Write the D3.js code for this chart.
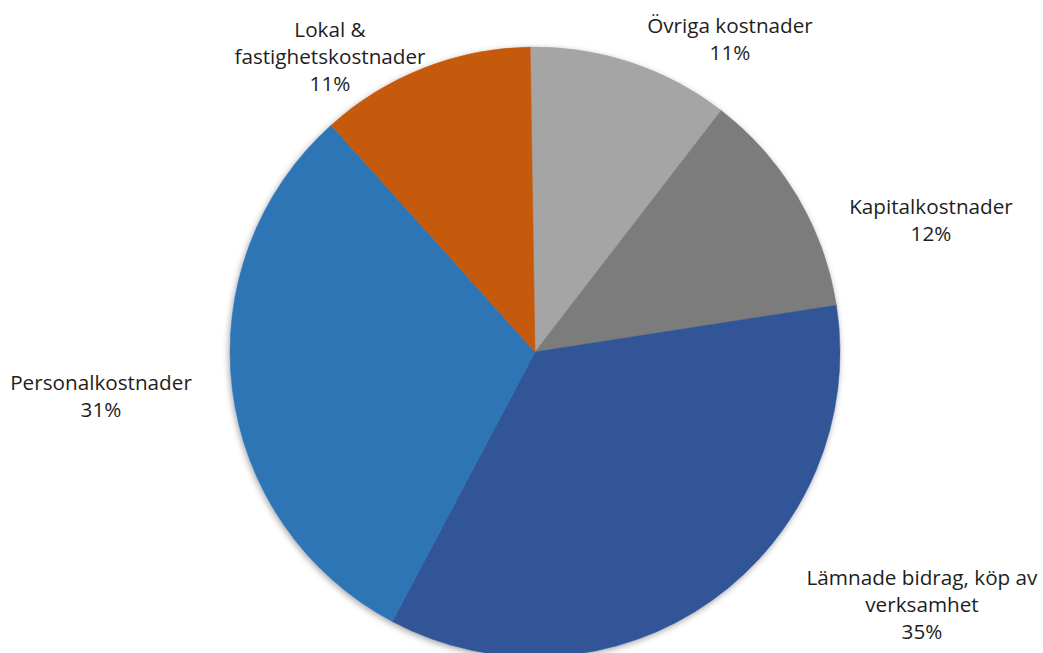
<!DOCTYPE html>
<html>
<head>
<meta charset="utf-8">
<script src="https://cdn.jsdelivr.net/npm/d3@7"></script>
<style>
  html, body { margin: 0; padding: 0; background: #fff; }
  svg { display: block; }
</style>
</head>
<body>
<svg width="1043" height="653"></svg>
<script>
// kostnader per slag, andel i procent
const categories = ["Övriga kostnader", "Kapitalkostnader", "Lämnade bidrag, köp av verksamhet", "Personalkostnader", "Lokal & fastighetskostnader"];
const values = [10.7, 12.1, 35.2, 30.6, 11.4];
const labelLines = [["Övriga kostnader"], ["Kapitalkostnader"], ["Lämnade bidrag, köp av", "verksamhet"], ["Personalkostnader"], ["Lokal &", "fastighetskostnader"]];
const colors = ["#a5a5a5", "#7c7c7c", "#305597", "#2e75b6", "#c55a11"];

// label centres (layout only)
const labelPos = [[730, 33], [931, 214], [922, 585], [101, 390], [330, 37]];

var svg = d3.select("svg");
var width = 1043, height = 653;
var cx = 535, cy = 352, radius = 305;
var lineH = 27;

var defs = svg.append("defs");
var f = defs.append("filter").attr("id", "shadow")
    .attr("x", "-10%").attr("y", "-10%").attr("width", "120%").attr("height", "120%");
f.append("feDropShadow")
    .attr("dx", -1).attr("dy", 2).attr("stdDeviation", 3)
    .attr("flood-color", "#000").attr("flood-opacity", 0.35);

var pie = d3.pie()
    .sort(null)
    .value(d => d)
    .startAngle(-0.9 * Math.PI / 180)
    .endAngle(2 * Math.PI - 0.9 * Math.PI / 180);

var arc = d3.arc().innerRadius(0).outerRadius(radius);

var g = svg.append("g")
    .attr("transform", "translate(" + cx + "," + cy + ")")
    .attr("filter", "url(#shadow)");

g.selectAll("path")
    .data(pie(values))
    .enter().append("path")
    .attr("d", arc)
    .attr("fill", (d, i) => colors[i])
    .attr("stroke", (d, i) => colors[i])
    .attr("stroke-width", 0.5);

var total = d3.sum(values);
var fmt = v => Math.round(v / total * 100) + "%";

var labels = svg.append("g")
    .selectAll("text")
    .data(categories)
    .enter().append("text")
    .attr("text-anchor", "middle")
    .attr("font-family", "'Open Sans', Lato, sans-serif")
    .attr("font-size", 20.7)
    .attr("fill", "#1e1e1e");

labels.each(function(d, i) {
    var t = d3.select(this);
    var lines = labelLines[i].concat([fmt(values[i])]);
    lines.forEach((ln, j) => {
        t.append("tspan")
            .attr("x", labelPos[i][0])
            .attr("y", labelPos[i][1] + j * lineH)
            .text(ln);
    });
});
</script>
</body>
</html>
